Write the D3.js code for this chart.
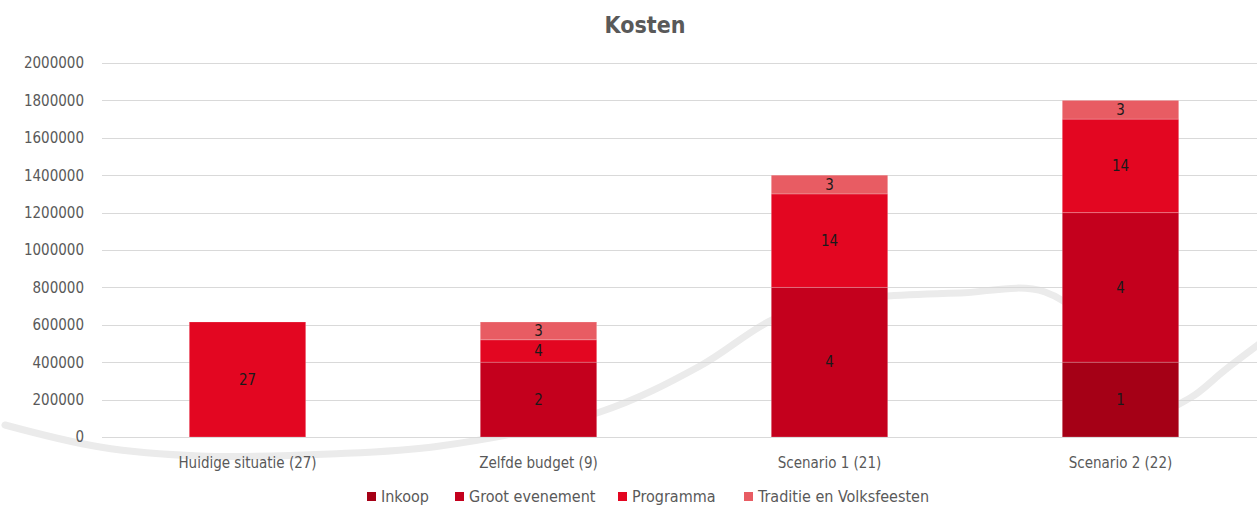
<!DOCTYPE html>
<html>
<head>
<meta charset="utf-8">
<script src="https://cdn.jsdelivr.net/npm/d3@7"></script>
<style>
  html, body { margin: 0; padding: 0; background: #fff; }
  svg { display: block; font-family: "DejaVu Sans Condensed", "DejaVu Sans", sans-serif; font-stretch: condensed; }
</style>
</head>
<body>
<svg id="chart" width="1257" height="506"></svg>
<script>
const categories = ['Huidige situatie (27)', 'Zelfde budget (9)', 'Scenario 1 (21)', 'Scenario 2 (22)'];
const series_names = ['Inkoop', 'Groot evenement', 'Programma', 'Traditie en Volksfeesten'];

// costs per category, one array per series
const inkoop = [0, 0, 0, 400000];
const groot_evenement = [0, 400000, 800000, 800000];
const programma = [615000, 120000, 500000, 500000];
const traditie = [0, 95000, 100000, 100000];

// number of items shown inside each segment
const inkoop_count = [null, null, null, 1];
const groot_count = [null, 2, 4, 4];
const programma_count = [27, 4, 14, 14];
const traditie_count = [null, 3, 3, 3];

const y_ticks = [0, 200000, 400000, 600000, 800000, 1000000, 1200000, 1400000, 1600000, 1800000, 2000000];

const colors = ['#a50016', '#c4001d', '#e30621', '#e85c63'];
const text_grey = '#595959';

const values = [inkoop, groot_evenement, programma, traditie];
const counts = [inkoop_count, groot_count, programma_count, traditie_count];

const rows = categories.map((c, i) => {
  const row = { category: c };
  series_names.forEach((s, j) => row[s] = values[j][i]);
  return row;
});

const svg = d3.select('#chart');
const margin = { left: 102, right: -9, top: 63, bottom: 69 };
const width = 1257, height = 506;

const x = d3.scaleBand()
  .domain(categories)
  .range([margin.left, width - margin.right])
  .paddingInner(0.6)
  .paddingOuter(0.3);

const y = d3.scaleLinear()
  .domain([0, 2000000])
  .range([height - margin.bottom, margin.top]);

// background decoration: faint swoosh behind the plot (pixel points)
const swoosh = [[5, 425], [100, 447], [200, 456], [330, 454], [440, 446], [600, 412],
  [700, 366], [772, 320], [830, 302], [888, 296], [960, 293], [1045, 292], [1120, 352],
  [1160, 408], [1190, 398], [1225, 370], [1262, 342]];
svg.append('path')
  .attr('d', d3.line().curve(d3.curveCatmullRom)(swoosh))
  .attr('fill', 'none')
  .attr('stroke', '#ebebeb')
  .attr('stroke-width', 7)
  .attr('stroke-linecap', 'round');

// gridlines
svg.append('g')
  .selectAll('line')
  .data(y_ticks)
  .enter()
  .append('line')
  .attr('x1', margin.left)
  .attr('x2', width)
  .attr('y1', (d) => Math.round(y(d)) + 0.5)
  .attr('y2', (d) => Math.round(y(d)) + 0.5)
  .attr('stroke', '#d9d9d9')
  .attr('stroke-width', 1);

// y axis labels
const y_axis = svg.append('g')
  .attr('transform', `translate(${margin.left - 16},0)`)
  .call(d3.axisLeft(y).tickValues(y_ticks).tickFormat(d3.format('d')).tickSize(0).tickPadding(2))
  .attr('font-family', null)
  .attr('font-size', null);
y_axis.select('.domain').remove();
y_axis.selectAll('text')
  .attr('fill', text_grey)
  .style('font-size', '15px');

// x axis labels
const x_axis = svg.append('g')
  .attr('transform', `translate(0,${y(0)})`)
  .call(d3.axisBottom(x).tickSize(0).tickPadding(20))
  .attr('font-family', null)
  .attr('font-size', null);
x_axis.select('.domain').remove();
x_axis.selectAll('text')
  .attr('fill', text_grey)
  .style('font-size', '15px');

// stacked bars
const stacked = d3.stack().keys(series_names)(rows);

const layers = svg.append('g')
  .selectAll('g')
  .data(stacked)
  .enter()
  .append('g')
  .attr('fill', (d, i) => colors[i]);

layers.selectAll('rect')
  .data((d) => d.filter((s) => s[1] > s[0]))
  .enter()
  .append('rect')
  .attr('x', (d) => x(d.data.category))
  .attr('y', (d) => y(d[1]))
  .attr('width', x.bandwidth())
  .attr('height', (d) => y(d[0]) - y(d[1]))
  .attr('stroke', 'rgba(255,255,255,0.2)')
  .attr('stroke-width', 1);

// segment labels
layers.each(function(layer, i) {
  d3.select(this).selectAll('text')
    .data(layer.map((s, k) => ({ s: s, n: counts[i][k] })).filter((d) => d.n !== null))
    .enter()
    .append('text')
    .attr('x', (d) => x(d.s.data.category) + x.bandwidth() / 2)
    .attr('y', (d) => (y(d.s[0]) + y(d.s[1])) / 2)
    .attr('dy', '0.35em')
    .attr('text-anchor', 'middle')
    .attr('fill', '#1a1a1a')
    .style('font-size', '15px')
    .text((d) => d.n);
});

// title
svg.append('text')
  .attr('x', 645)
  .attr('y', 33)
  .attr('text-anchor', 'middle')
  .attr('fill', text_grey)
  .style('font-size', '23px')
  .style('font-weight', 'bold')
  .text('Kosten');

// legend
const legend_x = [367, 455, 618, 744];
const legend = svg.append('g')
  .selectAll('g')
  .data(series_names)
  .enter()
  .append('g')
  .attr('transform', (d, i) => `translate(${legend_x[i]},492)`);

legend.append('rect')
  .attr('x', 0)
  .attr('y', 0)
  .attr('width', 9)
  .attr('height', 9)
  .attr('fill', (d, i) => colors[i]);

legend.append('text')
  .attr('x', 14)
  .attr('y', 10)
  .attr('fill', text_grey)
  .style('font-size', '16px')
  .text((d) => d);
</script>
</body>
</html>
